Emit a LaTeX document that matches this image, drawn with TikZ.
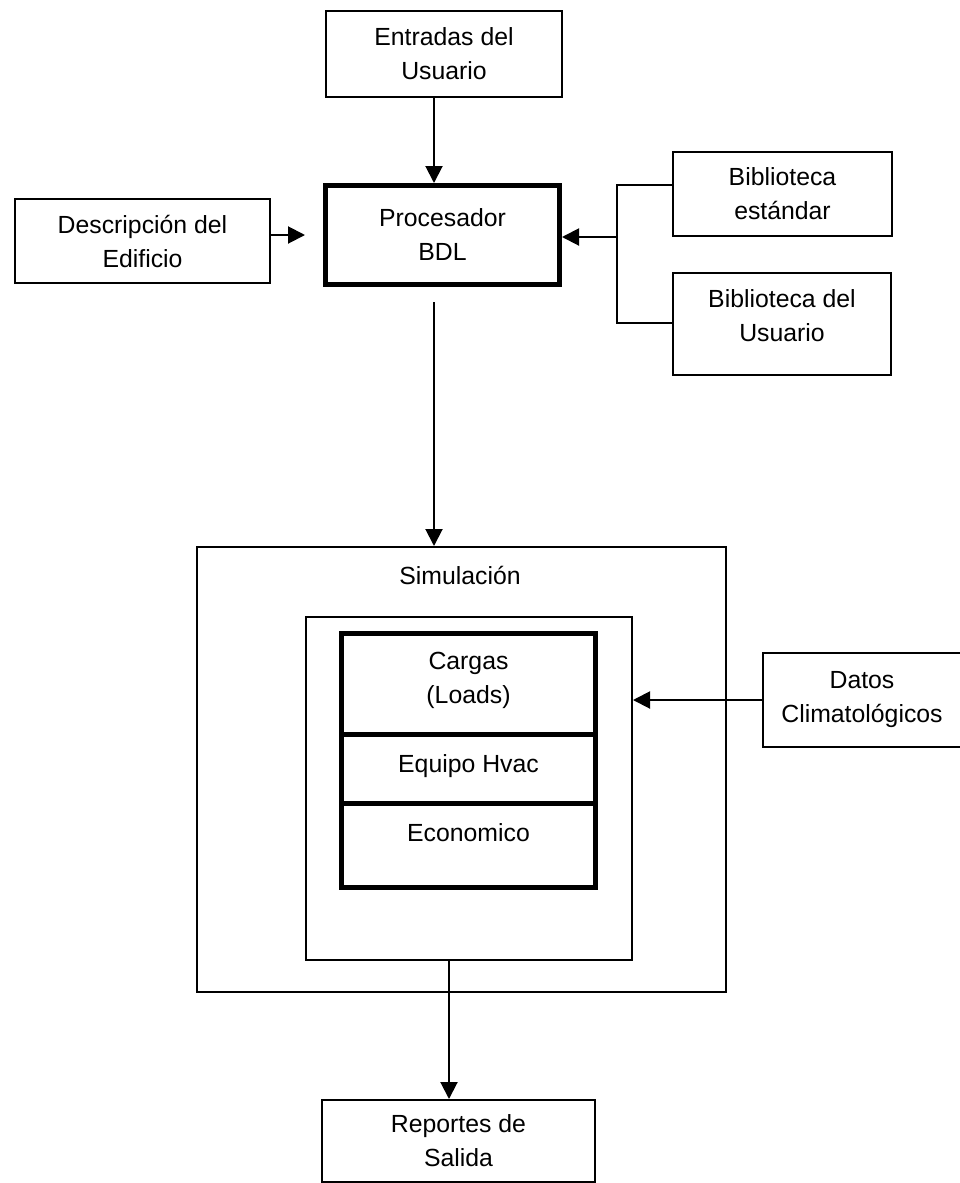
\documentclass[tikz,border=0pt]{standalone}
\usepackage{fontspec}
\setmainfont{Liberation Sans}
\usetikzlibrary{arrows.meta}
\begin{document}
\begin{tikzpicture}[x=1bp,y=-1bp,
  every node/.style={font=\fontsize{24.8bp}{34bp}\selectfont, align=center, inner sep=0pt},
  arr/.style={line width=2bp, -{Triangle[length=17bp,width=17bp]}},
  ln/.style={line width=2bp}]
\useasboundingbox (0,0) rectangle (960,1183);
% boxes
\node[draw, line width=2bp, minimum width=236bp, minimum height=86bp] (ent) at (444,54) {Entradas del\\Usuario};
\node[draw, line width=5bp, minimum width=234bp, minimum height=99bp] (proc) at (442.5,235) {Procesador\\BDL};
\node[draw, line width=2bp, minimum width=255bp, minimum height=84bp] (desc) at (142.5,241) {Descripción del\\Edificio};
\node[draw, line width=2bp, minimum width=219bp, minimum height=84bp] (best) at (782.5,194) {Biblioteca\\estándar};
\node[draw, line width=2bp, minimum width=218bp, minimum height=102bp] (busr) at (782,324) {};
\node (busrtxt) at (782,316) {Biblioteca del\\Usuario};
\node[draw, line width=2bp, minimum width=529bp, minimum height=445bp] (sim) at (461.5,769.5) {};
\node (simlbl) at (460,575) {Simulación};
\node[draw, line width=2bp, minimum width=326bp, minimum height=343bp] (inner) at (469,788.5) {};
\node[draw, line width=5bp, minimum width=254bp, minimum height=254bp] (stack) at (468.5,760.5) {};
\coordinate (d1) at (468.5,734);
\coordinate (d2) at (468.5,803);
\draw[line width=5bp] (d1 -| stack.west) -- (d1 -| stack.east);
\draw[line width=5bp] (d2 -| stack.west) -- (d2 -| stack.east);
\node (cargas) at (468.5,680) {Cargas\\(Loads)};
\node (equipo) at (468.5,766) {Equipo Hvac};
\node (econ) at (468.5,833) {Economico};
\node[draw, line width=2bp, minimum width=198bp, minimum height=94bp] (datos) at (862,700) {Datos\\Climatológicos};
\node[draw, line width=2bp, minimum width=273bp, minimum height=82bp] (rep) at (458.5,1141) {Reportes de\\Salida};
% connectors
\coordinate (e1) at (434,97);
\draw[arr] (e1) -- (e1 |- proc.north);
\coordinate (dtip) at (305,235);
\draw[arr] (desc.east |- dtip) -- (dtip);
\coordinate (jt) at (617,185);
\coordinate (jm) at (617,237);
\coordinate (jb) at (617,323);
\draw[ln] (jt -| best.west) -- (jt) -- (jb) -- (jb -| busr.west);
\draw[arr] (jm) -- (jm -| proc.east);
\coordinate (p1) at (434,302);
\draw[arr] (p1) -- (p1 |- sim.north);
\draw[arr] (datos.west) -- (datos.west -| inner.east);
\coordinate (o1) at (449,960);
\draw[arr] (o1) -- (o1 |- rep.north);
\end{tikzpicture}
\end{document}
